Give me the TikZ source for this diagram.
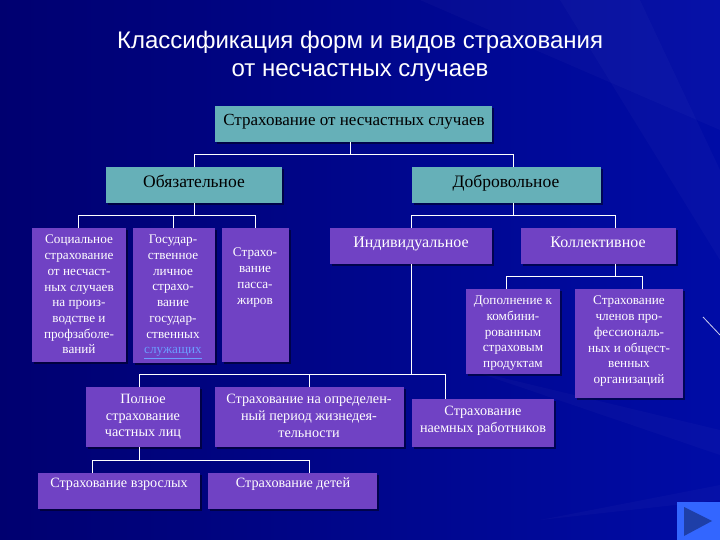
\documentclass[tikz,border=0pt]{standalone}
\usepackage{fontspec}
\setmainfont{Liberation Serif}
\newfontfamily\titlefont{Liberation Sans}
\usepackage{tikz}
\usetikzlibrary{calc, shadows}

\definecolor{bgdark}{HTML}{000070}
\definecolor{bgmid}{HTML}{00009A}
\definecolor{bgright}{HTML}{000CA6}
\definecolor{tealbox}{HTML}{66B0B8}
\definecolor{violetbox}{HTML}{7042C4}
\definecolor{linkblue}{HTML}{6C9CFF}
\definecolor{navblue}{HTML}{3366FF}
\definecolor{navdark}{HTML}{1E3FA8}

\tikzset{
    basebox/.style={anchor=north west, inner sep=0pt, outer sep=0pt,
        drop shadow={shadow xshift=2pt, shadow yshift=-2pt, fill=black, opacity=0.45}},
    tealnode/.style={basebox, fill=tealbox},
    violetnode/.style={basebox, fill=violetbox},
    darktext/.style={anchor=north, inner sep=0pt, text=black, align=center, font=\fontsize{17.5}{20}\selectfont},
    lighttext/.style={anchor=north, inner sep=0pt, text=white, align=center, font=\fontsize{16}{18}\selectfont},
    smalltext/.style={anchor=north, inner sep=0pt, text=white, align=center, font=\fontsize{13.2}{15.7}\selectfont},
    midtext/.style={anchor=north, inner sep=0pt, text=white, align=center, font=\fontsize{14.2}{16.7}\selectfont},
    conn/.style={white, line width=0.9pt},
    ray/.style={white, opacity=0.025}
}

\begin{document}
\begin{tikzpicture}[x=1pt, y=-1pt]
    \useasboundingbox (0,0) rectangle (720,540);

    % --- background ---
    \shade[left color=bgdark, middle color=bgmid, right color=bgright] (0,0) rectangle (720,540);
    \fill[ray] (720,0) -- (720,130) -- (420,0) -- cycle;
    \fill[ray] (720,170) -- (720,260) -- (560,0) -- (640,0) -- cycle;
    \fill[ray] (470,370) -- (720,430) -- (720,455) -- cycle;
    \fill[ray] (720,485) -- (540,520) -- (720,500) -- cycle;
    \draw[white, opacity=0.8, line width=0.8pt] (703,317) -- (720,335);

    % --- title ---
    \node[inner sep=0pt, text=white, align=center, font=\titlefont\fontsize{24}{28}\selectfont] (title) at (360,56)
        {Классификация форм и видов страхования\\от несчастных случаев};

    % --- boxes, first two levels ---
    \node[tealnode, minimum width=277, minimum height=36] (root) at (215,106) {};
    \node[tealnode, minimum width=176, minimum height=36] (obl) at (106,167) {};
    \node[tealnode, minimum width=189, minimum height=36] (dob) at (412,167) {};

    % --- boxes, violet ---
    \node[violetnode, minimum width=94, minimum height=134] (soc) at (32,228) {};
    \node[violetnode, minimum width=82, minimum height=135] (gos) at (133,228) {};
    \node[violetnode, minimum width=67, minimum height=134] (pas) at (222,228) {};
    \node[violetnode, minimum width=162, minimum height=36] (ind) at (330,228) {};
    \node[violetnode, minimum width=155, minimum height=36] (kol) at (521,228) {};
    \node[violetnode, minimum width=94, minimum height=85] (dop) at (466,289) {};
    \node[violetnode, minimum width=108, minimum height=109] (chl) at (575,289) {};
    \node[violetnode, minimum width=114, minimum height=60] (pol) at (86,387) {};
    \node[violetnode, minimum width=189, minimum height=60] (opr) at (215,387) {};
    \node[violetnode, minimum width=142, minimum height=48] (nae) at (412,399) {};
    \node[violetnode, minimum width=162, minimum height=36] (vzr) at (38,473) {};
    \node[violetnode, minimum width=169, minimum height=36] (det) at (208,473) {};

    % --- labels ---
    \node[darktext, font=\fontsize{17}{20}\selectfont] (rootlabel) at (354,114) {Страхование от несчастных случаев};
    \node[darktext] (obllabel) at (194,175) {Обязательное};
    \node[darktext] (doblabel) at (506,175) {Добровольное};
    \node[smalltext] (soclabel) at (79,235)
        {Социальное\\страхование\\от несчаст-\\ных случаев\\на произ-\\водстве и\\профзаболе-\\ваний};
    \node[smalltext] (goslabel) at (173,235)
        {Государ-\\ственное\\личное\\страхо-\\вание\\государ-\\ственных\\\textcolor{linkblue}{\underline{служащих}}};
    \node[smalltext] (paslabel) at (255,248) {Страхо-\\вание\\пасса-\\жиров};
    \node[lighttext] (indlabel) at (411,237) {Индивидуальное};
    \node[lighttext] (kollabel) at (598,237) {Коллективное};
    \node[smalltext] (doplabel) at (513,296)
        {Дополнение к\\комбини-\\рованным\\страховым\\продуктам};
    \node[smalltext] (chllabel) at (629,296)
        {Страхование\\членов про-\\фессиональ-\\ных и общест-\\венных\\организаций};
    \node[midtext] (pollabel) at (143,394) {Полное\\страхование\\частных лиц};
    \node[midtext] (oprlabel) at (309,394) {Страхование на определен-\\ный период жизнедея-\\тельности};
    \node[midtext] (naelabel) at (483,406) {Страхование\\наемных работников};
    \node[midtext] (vzrlabel) at (119,478) {Страхование взрослых};
    \node[midtext] (detlabel) at (293,478) {Страхование детей};

    % --- connectors ---
    \coordinate (busroot) at (350,154);
    \coordinate (busobl) at (194,215);
    \coordinate (busdob) at (513,215);
    \coordinate (buskol) at (615,276);
    \coordinate (busind) at (411,374);
    \coordinate (buspol) at (139,460);

    \draw[conn] (root.south -| busroot) -- (busroot);
    \draw[conn] (obl.north) |- (busroot);
    \draw[conn] (dob.north -| busdob) |- (busroot);

    \draw[conn] (obl.south) -- (busobl);
    \draw[conn] (soc.north -| 78,0) |- (busobl);
    \draw[conn] (gos.north -| 173,0) |- (busobl);
    \draw[conn] (pas.north) |- (busobl);

    \draw[conn] (dob.south -| busdob) -- (busdob);
    \draw[conn] (ind.north -| busind) |- (busdob);
    \draw[conn] (kol.north -| buskol) |- (busdob);

    \draw[conn] (kol.south -| buskol) -- (buskol);
    \draw[conn] (dop.north -| 506,0) |- (buskol);
    \draw[conn] (chl.north -| 642,0) |- (buskol);

    \draw[conn] (ind.south -| busind) -- (busind);
    \draw[conn] (pol.north -| buspol) |- (busind);
    \draw[conn] (opr.north) |- (busind);
    \draw[conn] (nae.north -| 445,0) |- (busind);

    \draw[conn] (pol.south -| buspol) -- (buspol);
    \draw[conn] (vzr.north -| 92,0) |- (buspol);
    \draw[conn] (det.north -| 309,0) |- (buspol);

    % --- nav button ---
    \fill[navblue] (677,502) rectangle (720,540);
    \fill[navdark] (684,507) -- (712,521) -- (684,536) -- cycle;
\end{tikzpicture}
\end{document}
